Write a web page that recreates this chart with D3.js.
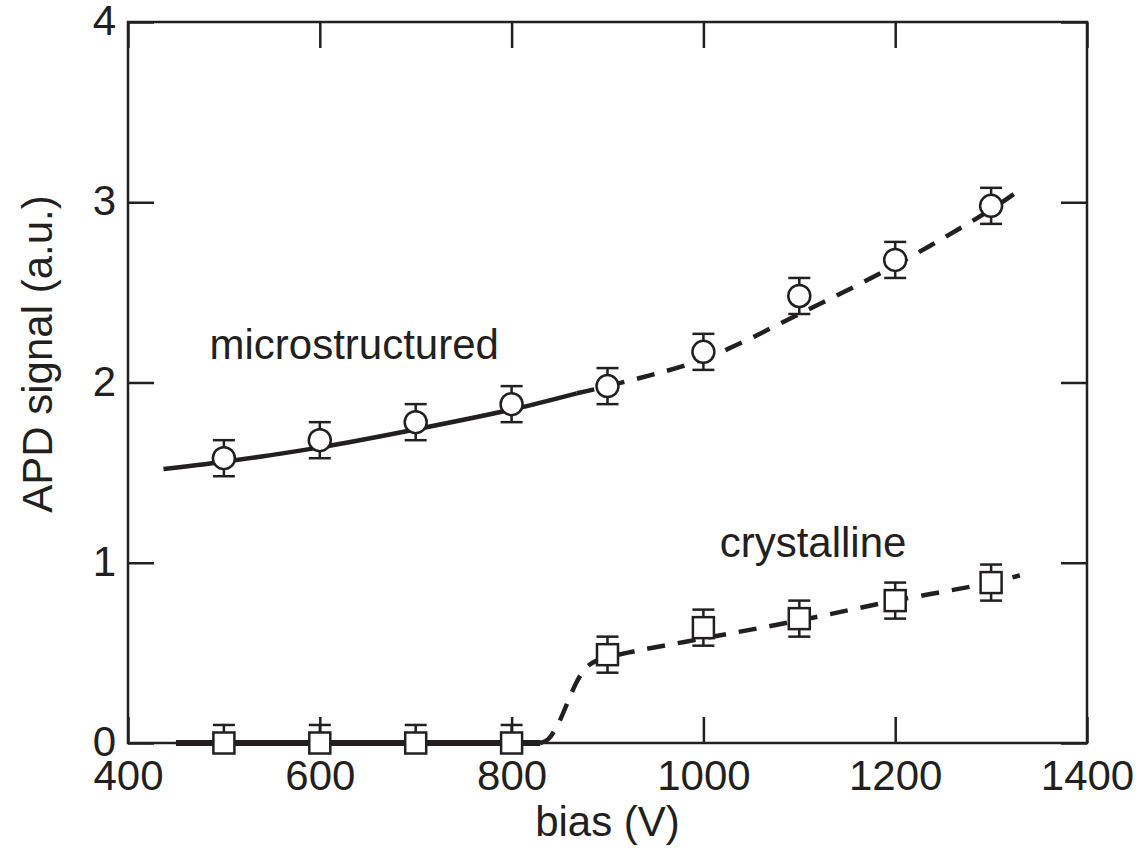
<!DOCTYPE html>
<html>
<head>
<meta charset="utf-8">
<script src="https://cdn.jsdelivr.net/npm/d3@7"></script>
<style>
  body { margin: 0; background: #fff; }
  svg text { font-family: "Liberation Sans", Arial, Helvetica, sans-serif; fill: #231f20; }
</style>
</head>
<body>
<svg id="chart"></svg>
<script>
// measured points
var biasV = [500, 600, 700, 800, 900, 1000, 1100, 1200, 1300];
var microSignal = [1.58, 1.68, 1.78, 1.88, 1.98, 2.17, 2.48, 2.68, 2.98];
var microErrUp = [0.1, 0.1, 0.1, 0.1, 0.1, 0.1, 0.1, 0.1, 0.1];
var microErrDown = [0.1, 0.1, 0.1, 0.1, 0.1, 0.1, 0.1, 0.1, 0.1];
var crysSignal = [0, 0, 0, 0, 0.49, 0.64, 0.69, 0.79, 0.89];
var crysErrUp = [0.1, 0.1, 0.1, 0.1, 0.1, 0.1, 0.1, 0.1, 0.1];
var crysErrDown = [0, 0, 0, 0, 0.1, 0.1, 0.1, 0.1, 0.1];

// fitted curves (solid part, dashed part)
var microFitSolid = [[437, 1.52], [500, 1.56], [600, 1.64], [700, 1.74], [800, 1.85], [868, 1.94]];
var microFitDash = [[868, 1.94], [900, 1.98], [1000, 2.13], [1100, 2.38], [1200, 2.65], [1300, 2.96], [1325, 3.05]];
var crysFitSolid = [[450, 0], [600, 0], [800, 0], [830, 0.0]];
var crysFitDash = [[830, 0.0], [838, 0.02], [848, 0.1], [858, 0.22], [868, 0.34], [878, 0.42], [890, 0.46], [920, 0.5], [1000, 0.58], [1100, 0.68], [1200, 0.79], [1300, 0.89], [1330, 0.93]];

var xTicks = [400, 600, 800, 1000, 1200, 1400];
var yTicks = [0, 1, 2, 3, 4];

var margin = { top: 22, right: 53, bottom: 108, left: 128 },
    width = 1140 - margin.left - margin.right,
    height = 851 - margin.top - margin.bottom;

var ink = '#231f20';
var fontSize = '42px';

var svg = d3.select('#chart')
    .attr('width', 1140)
    .attr('height', 851)
    .append('g')
    .attr('transform', 'translate(' + margin.left + ',' + margin.top + ')');

var x = d3.scaleLinear().domain([400, 1400]).range([0, width]);
var y = d3.scaleLinear().domain([0, 4]).range([height, 0]);

// axes with inner ticks on all four sides
function styleAxis(g) {
    g.select('.domain').remove();
    g.selectAll('line').attr('stroke', ink).attr('stroke-width', 2.5);
    g.selectAll('text').attr('font-size', fontSize).style('fill', ink);
}

svg.append('g')
    .attr('transform', 'translate(0,' + height + ')')
    .call(d3.axisBottom(x).tickValues(xTicks).tickSize(-26).tickPadding(8).tickFormat(d3.format('d')))
    .call(styleAxis)
    .selectAll('text').attr('dy', '0.92em');

svg.append('g')
    .call(d3.axisTop(x).tickValues(xTicks).tickSize(-26).tickFormat(''))
    .call(styleAxis);

svg.append('g')
    .call(d3.axisLeft(y).tickValues(yTicks).tickSize(-26).tickPadding(12).tickFormat(d3.format('d')))
    .call(styleAxis)
    .selectAll('text').attr('dy', '0.3em');

svg.append('g')
    .attr('transform', 'translate(' + width + ',0)')
    .call(d3.axisRight(y).tickValues(yTicks).tickSize(-26).tickFormat(''))
    .call(styleAxis);

// frame
svg.append('rect')
    .attr('width', width)
    .attr('height', height)
    .attr('fill', 'none')
    .attr('stroke', ink)
    .attr('stroke-width', 2.5);

// fit curves
var line = d3.line()
    .x(function(d) { return x(d[0]); })
    .y(function(d) { return y(d[1]); })
    .curve(d3.curveCatmullRom);

function drawFit(pts, dashed, w) {
    svg.append('path')
        .datum(pts)
        .attr('d', line)
        .attr('fill', 'none')
        .attr('stroke', ink)
        .attr('stroke-width', w)
        .attr('stroke-dasharray', dashed ? '18,13' : null);
}
drawFit(microFitSolid, false, 4.5);
drawFit(microFitDash, true, 4.5);
drawFit(crysFitSolid, false, 6);
drawFit(crysFitDash, true, 4.5);

// error bars
function drawErr(vals, up, down) {
    var g = svg.append('g').attr('stroke', ink).attr('stroke-width', 2.5);
    vals.forEach(function(v, i) {
        var cx = x(biasV[i]);
        g.append('line').attr('x1', cx).attr('x2', cx)
            .attr('y1', y(v + up[i])).attr('y2', y(v - down[i]));
        [up[i], -down[i]].forEach(function(e) {
            if (e === 0) return;
            g.append('line').attr('x1', cx - 11).attr('x2', cx + 11)
                .attr('y1', y(v + e)).attr('y2', y(v + e));
        });
    });
}
drawErr(microSignal, microErrUp, microErrDown);
drawErr(crysSignal, crysErrUp, crysErrDown);

// markers
svg.selectAll('circle.micro')
    .data(microSignal)
    .enter()
    .append('circle')
    .attr('class', 'micro')
    .attr('cx', function(d, i) { return x(biasV[i]); })
    .attr('cy', function(d) { return y(d); })
    .attr('r', 11)
    .attr('fill', '#fff')
    .attr('stroke', ink)
    .attr('stroke-width', 2.5);

svg.selectAll('rect.crys')
    .data(crysSignal)
    .enter()
    .append('rect')
    .attr('class', 'crys')
    .attr('x', function(d, i) { return x(biasV[i]) - 10.5; })
    .attr('y', function(d) { return y(d) - 10.5; })
    .attr('width', 21)
    .attr('height', 21)
    .attr('fill', '#fff')
    .attr('stroke', ink)
    .attr('stroke-width', 2.5);

// labels
svg.append('text')
    .attr('x', x(485))
    .attr('y', y(2.13))
    .attr('font-size', fontSize)
    .text('microstructured');

svg.append('text')
    .attr('x', x(1017))
    .attr('y', y(1.03))
    .attr('font-size', fontSize)
    .text('crystalline');

svg.append('text')
    .attr('x', width / 2)
    .attr('y', height + 93)
    .attr('font-size', fontSize)
    .style('text-anchor', 'middle')
    .text('bias (V)');

svg.append('text')
    .attr('transform', 'rotate(-90)')
    .attr('x', -332)
    .attr('y', -76)
    .attr('font-size', fontSize)
    .style('text-anchor', 'middle')
    .text('APD signal (a.u.)');
</script>
</body>
</html>
